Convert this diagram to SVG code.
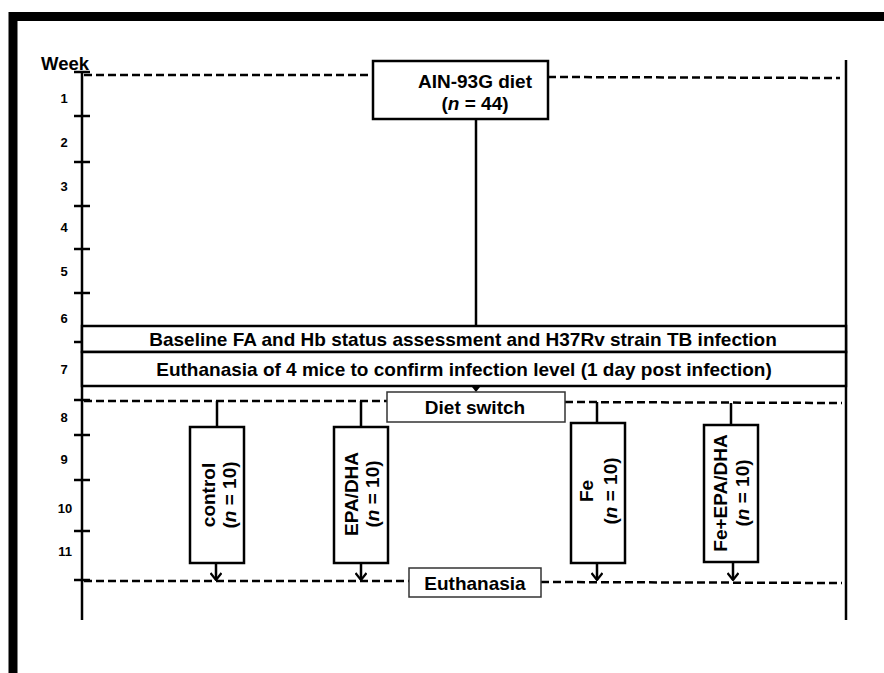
<svg xmlns="http://www.w3.org/2000/svg" width="884" height="673" viewBox="0 0 884 673">
<defs>
<style>
text{font-family:"Liberation Sans",Arial,sans-serif;font-weight:bold;fill:#000}
.wk{font-size:13px;text-anchor:middle}
.lbl{font-size:19px;text-anchor:middle}
.box{fill:#fff;stroke:#000;stroke-width:2.5}
.sbox{fill:#fff;stroke:#333;stroke-width:1.5}
.dash{stroke:#000;stroke-width:2.5;stroke-dasharray:8 4;fill:none}
.ln{stroke:#000;stroke-width:2.5;fill:none}
</style>
<marker id="chev" viewBox="0 0 9 12" refX="8" refY="6" markerWidth="9" markerHeight="12" markerUnits="userSpaceOnUse" orient="auto">
<path d="M1,0.5 L8,6 L1,11.5" fill="none" stroke="#000" stroke-width="2.2"/>
</marker>
</defs>
<rect width="884" height="673" fill="#fff"/>
<path d="M13,673 V16.5 H884" fill="none" stroke="#000" stroke-width="9"/>

<g id="axis">
<line class="ln" x1="82" y1="72" x2="82" y2="620"/>
<line class="ln" x1="846" y1="60" x2="846" y2="620"/>
<g class="ln">
<line x1="74" y1="72" x2="90" y2="72"/>
<line x1="74" y1="116" x2="90" y2="116"/>
<line x1="74" y1="162" x2="90" y2="162"/>
<line x1="74" y1="206" x2="90" y2="206"/>
<line x1="74" y1="249" x2="90" y2="249"/>
<line x1="74" y1="293" x2="90" y2="293"/>
<line x1="74" y1="342" x2="90" y2="342"/>
<line x1="74" y1="400" x2="90" y2="400"/>
<line x1="74" y1="435" x2="90" y2="435"/>
<line x1="74" y1="480" x2="90" y2="480"/>
<line x1="74" y1="531" x2="90" y2="531"/>
<line x1="74" y1="580" x2="90" y2="580"/>
</g>
<text x="41" y="70" style="font-size:18.5px">Week</text>
<text class="wk" x="64" y="103">1</text>
<text class="wk" x="64" y="147">2</text>
<text class="wk" x="64" y="191">3</text>
<text class="wk" x="64" y="232">4</text>
<text class="wk" x="64" y="276">5</text>
<text class="wk" x="64" y="323">6</text>
<text class="wk" x="64" y="374">7</text>
<text class="wk" x="64" y="422">8</text>
<text class="wk" x="64" y="464">9</text>
<text class="wk" x="65" y="513">10</text>
<text class="wk" x="65" y="556">11</text>
</g>

<g id="connectors">
<line class="dash" x1="84" y1="75" x2="373" y2="75"/>
<line class="dash" x1="548" y1="77" x2="840" y2="78"/>
<line class="dash" x1="84" y1="401" x2="387" y2="401"/>
<line class="dash" x1="565" y1="402" x2="842" y2="403"/>
<line class="dash" x1="84" y1="581" x2="409" y2="581"/>
<line class="dash" x1="541" y1="582" x2="842" y2="583"/>
<line class="ln" x1="476" y1="119" x2="476" y2="325"/>
<path d="M472,387 L480,387 L476,392 Z" fill="#000"/>
<line class="ln" x1="217" y1="401" x2="217" y2="427"/>
<line class="ln" x1="361" y1="401" x2="361" y2="427"/>
<line class="ln" x1="597" y1="402" x2="597" y2="423"/>
<line class="ln" x1="731" y1="403" x2="731" y2="425"/>
<line class="ln" x1="216" y1="563" x2="216" y2="580" marker-end="url(#chev)"/>
<line class="ln" x1="361" y1="563" x2="361" y2="580" marker-end="url(#chev)"/>
<line class="ln" x1="597" y1="563" x2="597" y2="580" marker-end="url(#chev)"/>
<line class="ln" x1="733" y1="562" x2="733" y2="580" marker-end="url(#chev)"/>
</g>

<g id="ain">
<rect class="box" x="373" y="61" width="175" height="58"/>
<text class="lbl" x="475" y="88">AIN-93G diet</text>
<text class="lbl" x="475" y="110">(<tspan font-style="italic">n</tspan> = 44)</text>
</g>

<g id="baseline">
<rect class="box" x="82" y="326" width="764" height="26"/>
<text class="lbl" x="463" y="346">Baseline FA and Hb status assessment and H37Rv strain TB infection</text>
</g>

<g id="euth4">
<rect class="box" x="82" y="352" width="764" height="34"/>
<text class="lbl" x="464" y="376">Euthanasia of 4 mice to confirm infection level (1 day post infection)</text>
</g>

<g id="dietswitch">
<rect class="sbox" x="387" y="392" width="178" height="30"/>
<text class="lbl" x="475" y="414">Diet switch</text>
</g>

<g id="control">
<rect class="box" x="190" y="427" width="54" height="136"/>
<text class="lbl" transform="translate(215,495) rotate(-90)">control</text>
<text class="lbl" transform="translate(236,495) rotate(-90)">(<tspan font-style="italic">n</tspan> = 10)</text>
</g>

<g id="epadha">
<rect class="box" x="334" y="427" width="54" height="136"/>
<text class="lbl" transform="translate(358,494) rotate(-90)">EPA/DHA</text>
<text class="lbl" transform="translate(379,494) rotate(-90)">(<tspan font-style="italic">n</tspan> = 10)</text>
</g>

<g id="fe">
<rect class="box" x="571" y="423" width="54" height="140"/>
<text class="lbl" transform="translate(593,491) rotate(-90)">Fe</text>
<text class="lbl" transform="translate(617,491) rotate(-90)">(<tspan font-style="italic">n</tspan> = 10)</text>
</g>

<g id="feepadha">
<rect class="box" x="704" y="425" width="54" height="137"/>
<text class="lbl" transform="translate(727,493) rotate(-90)">Fe+EPA/DHA</text>
<text class="lbl" transform="translate(749,493) rotate(-90)">(<tspan font-style="italic">n</tspan> = 10)</text>
</g>

<g id="euthanasia">
<rect class="sbox" x="409" y="568" width="132" height="29"/>
<text class="lbl" x="475" y="590">Euthanasia</text>
</g>
</svg>
